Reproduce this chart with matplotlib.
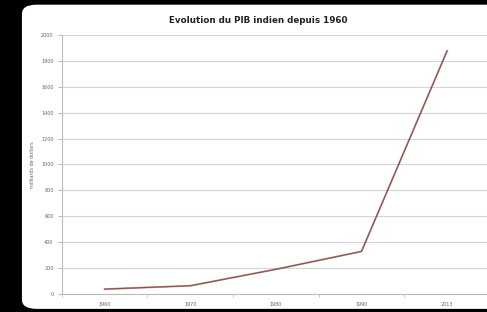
import matplotlib
matplotlib.use("Agg")
import matplotlib.pyplot as plt
from matplotlib.patches import FancyBboxPatch
import numpy as np

# Data
years = ["1960", "1970", "1980", "1990", "2013"]
pib = [37, 63, 190, 328, 1877]
yticks = list(range(0, 2001, 200))

fig = plt.figure(figsize=(4.87, 3.12), dpi=100)
fig.patch.set_facecolor("black")

# white rounded panel behind the chart
panel = FancyBboxPatch((0.045, 0.01), 1.0, 0.975, boxstyle="round,pad=0,rounding_size=0.03",
                       transform=fig.transFigure, facecolor="white", edgecolor="none", zorder=-10)
fig.patches.append(panel)

ax = fig.add_axes([0.127, 0.058, 0.879, 0.83])
ax.set_zorder(5)
ax.set_facecolor("white")

x = np.arange(len(years))
ax.plot(x, pib, color="#3a2a2a", linewidth=1.4, alpha=0.4, zorder=2)
ax.plot(x, pib, color="#9b4a45", linewidth=0.8, zorder=3)

ax.set_xlim(-0.5, len(years) - 0.5)
ax.set_ylim(0, 2000)
ax.set_yticks(yticks)
ax.set_yticklabels([str(v) for v in yticks], fontsize=3.5, color="#666666")
ax.set_xticks(x)
ax.set_xticklabels(years, fontsize=3.5, color="#666666")
ax.set_xticks(np.arange(-0.5, len(years)), minor=True)
ax.tick_params(axis="x", which="major", length=0, pad=6)
ax.tick_params(axis="x", which="minor", length=2, color="#bbbbbb")
ax.tick_params(axis="y", length=3, color="#bbbbbb", pad=3)

ax.grid(axis="y", color="#d4d4d4", linewidth=0.8)
ax.set_axisbelow(True)
for s in ["top", "right"]:
    ax.spines[s].set_visible(False)
for s in ["left", "bottom"]:
    ax.spines[s].set_color("#bbbbbb")
    ax.spines[s].set_linewidth(0.8)

ax.set_ylabel("milliards de dollars", fontsize=3.5, color="#666666", labelpad=4)
fig.text(0.53, 0.935, "Evolution du PIB indien depuis 1960", ha="center", va="center",
         fontsize=6.3, fontweight="bold", color="#222222")

plt.savefig("out.png", dpi=100, facecolor=fig.get_facecolor())
